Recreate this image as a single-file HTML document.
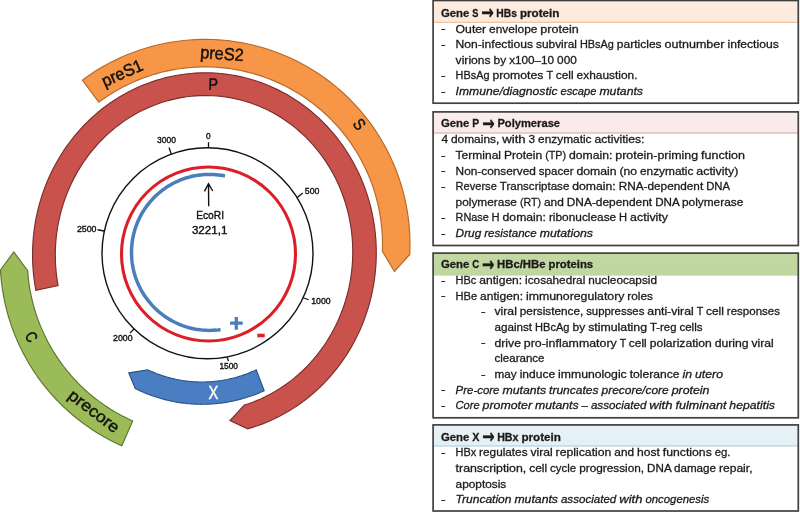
<!DOCTYPE html>
<html><head><meta charset="utf-8"><title>HBV genome</title>
<style>html,body{margin:0;padding:0;background:#fff}svg{display:block}text{font-family:"Liberation Sans",sans-serif}</style>
</head><body>
<svg width="800" height="512" viewBox="0 0 800 512">
<rect width="800" height="512" fill="#fff"/>
<path d="M82.34,80.14 L87.03,76.74 L91.82,73.48 L96.69,70.35 L101.66,67.35 L106.7,64.5 L111.82,61.8 L117.02,59.24 L122.29,56.83 L127.62,54.56 L133.02,52.45 L138.47,50.5 L143.98,48.69 L149.53,47.05 L155.13,45.56 L160.77,44.23 L166.44,43.06 L172.15,42.05 L177.88,41.2 L183.63,40.52 L189.4,39.99 L195.19,39.63 L200.98,39.44 L206.77,39.41 L212.56,39.54 L218.35,39.84 L224.13,40.29 L229.89,40.92 L235.63,41.7 L241.34,42.65 L247.03,43.75 L252.68,45.02 L258.3,46.45 L263.87,48.03 L269.4,49.78 L274.87,51.67 L280.29,53.73 L285.65,55.93 L290.94,58.28 L296.17,60.79 L301.32,63.44 L306.39,66.23 L311.39,69.17 L316.3,72.24 L321.12,75.46 L325.85,78.81 L330.48,82.29 L335.01,85.9 L339.44,89.63 L343.75,93.5 L347.96,97.48 L352.06,101.58 L356.04,105.79 L359.89,110.11 L363.63,114.54 L367.23,119.08 L370.71,123.71 L374.05,128.44 L377.26,133.27 L380.33,138.18 L383.27,143.18 L386.06,148.25 L388.7,153.41 L391.2,158.64 L393.55,163.93 L395.75,169.29 L397.79,174.71 L399.68,180.19 L401.42,185.72 L403,191.29 L404.42,196.91 L405.69,202.56 L406.79,208.25 L407.73,213.97 L408.51,219.71 L409.12,225.47 L409.58,231.24 L409.87,237.03 L409.99,242.82 L409.96,248.62 L409.76,254.41 L394.4,271.5 L382.37,251.25 L382.49,246.26 L382.47,241.27 L382.31,236.28 L382.02,231.29 L381.58,226.32 L381,221.36 L380.28,216.42 L379.42,211.5 L378.43,206.6 L377.3,201.74 L376.03,196.91 L374.62,192.12 L373.09,187.36 L371.42,182.66 L369.61,178 L367.68,173.4 L365.62,168.85 L363.43,164.36 L361.11,159.93 L358.68,155.58 L356.12,151.29 L353.44,147.07 L350.64,142.94 L347.73,138.88 L344.7,134.91 L341.57,131.02 L338.33,127.22 L334.98,123.52 L331.52,119.91 L327.97,116.4 L324.32,112.99 L320.58,109.69 L316.74,106.49 L312.82,103.4 L308.81,100.42 L304.72,97.56 L300.55,94.81 L296.3,92.18 L291.98,89.67 L287.6,87.29 L283.14,85.03 L278.63,82.89 L274.06,80.88 L269.43,79.01 L264.75,77.26 L260.03,75.64 L255.26,74.16 L250.45,72.82 L245.6,71.61 L240.73,70.53 L235.82,69.6 L230.89,68.8 L225.94,68.14 L220.97,67.62 L215.99,67.24 L211.01,67 L206.01,66.9 L201.02,66.94 L196.03,67.13 L191.05,67.45 L186.07,67.91 L181.12,68.51 L176.18,69.26 L171.26,70.14 L166.37,71.15 L161.51,72.31 L156.69,73.6 L151.9,75.03 L147.16,76.59 L142.46,78.28 L137.81,80.11 L133.22,82.06 L128.68,84.15 L124.2,86.36 L119.79,88.69 L115.44,91.15 L111.17,93.73 L106.96,96.43 L102.84,99.25 L98.8,102.18Z" fill="#F79646" stroke="#B46A2C" stroke-width="1.15" stroke-linejoin="miter"/>
<path d="M35.88,290.4 L34.97,285.23 L34.2,280.03 L33.57,274.81 L33.09,269.57 L32.76,264.31 L32.57,259.05 L32.53,253.78 L32.63,248.52 L32.88,243.25 L33.27,238 L33.81,232.76 L34.49,227.54 L35.31,222.34 L36.28,217.16 L37.4,212.02 L38.65,206.91 L40.04,201.85 L41.57,196.82 L43.24,191.85 L45.05,186.93 L46.99,182.06 L49.07,177.26 L51.27,172.52 L53.61,167.85 L56.07,163.25 L58.66,158.73 L61.37,154.28 L64.21,149.93 L67.16,145.66 L70.23,141.48 L73.41,137.4 L76.71,133.42 L80.11,129.54 L83.61,125.76 L87.22,122.09 L90.93,118.54 L94.73,115.09 L98.63,111.77 L102.62,108.57 L106.69,105.49 L110.85,102.53 L115.08,99.7 L119.39,97.01 L123.77,94.44 L128.22,92.02 L132.74,89.72 L137.32,87.57 L141.95,85.56 L146.63,83.69 L151.37,81.96 L156.15,80.39 L160.97,78.95 L165.82,77.67 L170.71,76.53 L175.63,75.55 L180.57,74.71 L185.54,74.03 L190.52,73.5 L195.51,73.12 L200.5,72.9 L205.51,72.82 L210.51,72.91 L215.5,73.14 L220.49,73.53 L225.46,74.07 L230.41,74.76 L235.35,75.61 L240.25,76.6 L245.13,77.75 L249.97,79.04 L254.77,80.48 L259.53,82.07 L264.25,83.81 L268.91,85.69 L273.52,87.71 L278.07,89.87 L282.55,92.17 L286.97,94.61 L291.33,97.18 L295.6,99.89 L299.8,102.72 L303.92,105.68 L307.96,108.77 L311.91,111.99 L315.76,115.32 L319.53,118.77 L323.19,122.33 L326.76,126 L330.22,129.79 L333.57,133.68 L336.82,137.67 L339.95,141.75 L342.97,145.94 L345.87,150.21 L348.65,154.57 L351.31,159.02 L353.84,163.55 L356.25,168.15 L358.53,172.83 L360.68,177.57 L362.69,182.38 L364.58,187.25 L366.32,192.17 L367.93,197.15 L369.41,202.18 L370.74,207.25 L371.93,212.36 L372.98,217.5 L373.88,222.68 L374.65,227.88 L375.27,233.1 L375.74,238.34 L376.07,243.6 L376.25,248.86 L376.29,254.13 L376.18,259.4 L375.93,264.66 L375.53,269.91 L374.99,275.15 L374.3,280.37 L373.47,285.57 L372.5,290.74 L371.38,295.88 L370.12,300.99 L368.73,306.06 L367.19,311.08 L365.51,316.05 L363.7,320.97 L361.76,325.83 L359.68,330.64 L357.46,335.37 L355.12,340.04 L352.66,344.64 L350.06,349.16 L347.34,353.59 L344.51,357.95 L341.55,362.21 L338.48,366.39 L335.29,370.47 L331.99,374.45 L328.59,378.32 L325.08,382.1 L321.47,385.76 L317.75,389.31 L313.95,392.75 L310.05,396.07 L306.06,399.27 L301.98,402.34 L297.82,405.29 L293.58,408.12 L289.27,410.81 L284.89,413.37 L280.43,415.79 L275.92,418.08 L271.34,420.22 L266.7,422.23 L262.02,424.1 L257.28,425.82 L252.5,427.39 L247.68,428.82 L230,420.6 L244.41,405.05 L248.54,403.7 L252.63,402.23 L256.68,400.63 L260.68,398.91 L264.64,397.06 L268.55,395.1 L272.4,393.01 L276.19,390.81 L279.93,388.5 L283.6,386.07 L287.2,383.53 L290.74,380.88 L294.2,378.13 L297.59,375.27 L300.89,372.3 L304.12,369.24 L307.26,366.08 L310.32,362.83 L313.29,359.49 L316.16,356.05 L318.94,352.53 L321.63,348.93 L324.22,345.25 L326.7,341.49 L329.09,337.66 L331.36,333.75 L333.54,329.78 L335.6,325.75 L337.55,321.65 L339.39,317.5 L341.12,313.29 L342.73,309.03 L344.23,304.73 L345.61,300.38 L346.87,296 L348.01,291.58 L349.03,287.13 L349.93,282.64 L350.7,278.14 L351.36,273.61 L351.88,269.07 L352.29,264.51 L352.57,259.95 L352.73,255.38 L352.76,250.8 L352.67,246.23 L352.45,241.67 L352.11,237.12 L351.64,232.58 L351.06,228.05 L350.34,223.55 L349.51,219.07 L348.55,214.63 L347.47,210.21 L346.27,205.83 L344.96,201.49 L343.52,197.2 L341.97,192.95 L340.3,188.75 L338.52,184.61 L336.62,180.52 L334.62,176.5 L332.5,172.54 L330.28,168.65 L327.95,164.83 L325.51,161.08 L322.98,157.41 L320.34,153.82 L317.61,150.32 L314.79,146.9 L311.86,143.57 L308.85,140.33 L305.76,137.19 L302.57,134.14 L299.31,131.2 L295.96,128.36 L292.54,125.62 L289.04,122.99 L285.47,120.47 L281.83,118.06 L278.13,115.76 L274.37,113.58 L270.54,111.52 L266.67,109.57 L262.73,107.75 L258.75,106.05 L254.73,104.47 L250.66,103.02 L246.55,101.69 L242.41,100.49 L238.23,99.42 L234.03,98.48 L229.8,97.66 L225.55,96.98 L221.28,96.43 L216.99,96.01 L212.7,95.73 L208.4,95.57 L204.09,95.55 L199.79,95.66 L195.48,95.9 L191.19,96.27 L186.9,96.78 L182.64,97.42 L178.38,98.18 L174.15,99.08 L169.95,100.11 L165.77,101.27 L161.63,102.55 L157.52,103.96 L153.45,105.5 L149.42,107.16 L145.44,108.94 L141.51,110.84 L137.62,112.86 L133.8,115 L130.03,117.26 L126.33,119.63 L122.69,122.12 L119.12,124.71 L115.62,127.41 L112.2,130.22 L108.85,133.13 L105.58,136.14 L102.39,139.25 L99.29,142.45 L96.28,145.75 L93.36,149.14 L90.53,152.62 L87.79,156.18 L85.15,159.82 L82.62,163.54 L80.18,167.33 L77.85,171.2 L75.62,175.14 L73.5,179.14 L71.49,183.21 L69.6,187.33 L67.81,191.51 L66.14,195.74 L64.58,200.02 L63.14,204.35 L61.82,208.71 L60.62,213.11 L59.54,217.55 L58.58,222.02 L57.74,226.51 L57.02,231.03 L56.43,235.56 L55.96,240.11 L55.62,244.67 L55.4,249.24 L55.3,253.82 L55.33,258.39 L55.48,262.95 L55.76,267.51 L56.16,272.06 L56.69,276.59 L57.34,281.11 L58.11,285.6Z" fill="#CA524D" stroke="#7A2E2C" stroke-width="1.15" stroke-linejoin="miter"/>
<path d="M13.75,251.9 L27.65,270.61 L27.83,273.01 L28.04,275.41 L28.28,277.8 L28.56,280.2 L28.86,282.59 L29.2,284.97 L29.57,287.35 L29.98,289.73 L30.41,292.1 L30.88,294.46 L31.38,296.81 L31.91,299.16 L32.48,301.5 L33.07,303.84 L33.7,306.16 L34.36,308.48 L35.05,310.79 L35.77,313.09 L36.52,315.38 L37.31,317.65 L38.12,319.92 L38.97,322.18 L39.84,324.42 L40.75,326.65 L41.68,328.87 L42.65,331.08 L43.65,333.27 L44.67,335.45 L45.73,337.61 L46.81,339.76 L47.93,341.9 L49.07,344.02 L50.24,346.13 L51.44,348.21 L52.67,350.29 L53.93,352.34 L55.21,354.38 L56.52,356.4 L57.86,358.4 L59.23,360.39 L60.62,362.35 L62.04,364.3 L63.48,366.22 L64.95,368.13 L66.45,370.02 L67.98,371.88 L69.52,373.73 L71.1,375.55 L72.69,377.36 L74.32,379.14 L75.96,380.9 L77.63,382.63 L79.32,384.35 L81.04,386.04 L82.78,387.7 L84.54,389.35 L86.32,390.96 L88.13,392.56 L89.96,394.13 L91.8,395.67 L93.67,397.19 L95.56,398.69 L97.47,400.16 L99.4,401.6 L101.35,403.01 L103.32,404.4 L105.3,405.77 L107.31,407.1 L109.33,408.41 L111.37,409.69 L113.43,410.94 L115.5,412.17 L117.59,413.36 L119.7,414.53 L121.82,415.67 L123.96,416.78 L126.11,417.86 L128.28,418.91 L130.46,419.94 L132.65,420.93 L121.84,445.78 L119.28,444.62 L116.74,443.43 L114.21,442.21 L111.7,440.95 L109.2,439.65 L106.73,438.33 L104.27,436.96 L101.83,435.57 L99.42,434.14 L97.02,432.68 L94.64,431.18 L92.28,429.65 L89.94,428.09 L87.63,426.5 L85.34,424.88 L83.07,423.22 L80.82,421.54 L78.59,419.82 L76.39,418.07 L74.22,416.3 L72.07,414.49 L69.94,412.65 L67.84,410.79 L65.77,408.9 L63.72,406.97 L61.69,405.02 L59.7,403.05 L57.73,401.04 L55.79,399.01 L53.88,396.95 L52,394.87 L50.14,392.76 L48.32,390.62 L46.52,388.46 L44.75,386.28 L43.02,384.07 L41.31,381.83 L39.64,379.58 L37.99,377.3 L36.38,375 L34.8,372.68 L33.25,370.33 L31.74,367.97 L30.25,365.58 L28.8,363.18 L27.39,360.75 L26,358.31 L24.65,355.84 L23.34,353.36 L22.05,350.86 L20.81,348.34 L19.59,345.81 L18.42,343.26 L17.27,340.69 L16.17,338.11 L15.09,335.51 L14.06,332.9 L13.06,330.28 L12.09,327.64 L11.17,324.99 L10.28,322.32 L9.42,319.65 L8.6,316.96 L7.82,314.26 L7.08,311.55 L6.37,308.83 L5.71,306.1 L5.07,303.36 L4.48,300.62 L3.93,297.86 L3.41,295.1 L2.93,292.34 L2.49,289.56 L2.08,286.78 L1.72,284 L1.39,281.21 L1.1,278.41 L0.85,275.61 L0.64,272.81 L0.47,270.01Z" fill="#9BBB59" stroke="#5E7530" stroke-width="1.15" stroke-linejoin="miter"/>
<path d="M128.75,372.9 L147.77,369.84 L149.04,370.43 L150.31,371.01 L151.59,371.57 L152.88,372.12 L154.18,372.65 L155.48,373.17 L156.79,373.68 L158.1,374.17 L159.41,374.65 L160.74,375.11 L162.06,375.56 L163.4,375.99 L164.73,376.41 L166.07,376.81 L167.42,377.2 L168.77,377.58 L170.12,377.93 L171.48,378.28 L172.84,378.61 L174.21,378.92 L175.58,379.22 L176.95,379.5 L178.32,379.77 L179.7,380.03 L181.08,380.27 L182.46,380.49 L183.85,380.7 L185.24,380.89 L186.63,381.07 L188.02,381.23 L189.41,381.37 L190.81,381.51 L192.2,381.62 L193.6,381.72 L195,381.81 L196.4,381.88 L197.8,381.93 L199.2,381.97 L200.6,381.99 L202,382 L203.4,381.99 L204.8,381.97 L206.2,381.93 L207.6,381.88 L209,381.81 L210.4,381.72 L211.79,381.62 L213.19,381.51 L214.59,381.37 L215.98,381.23 L217.37,381.07 L218.76,380.89 L220.15,380.7 L221.53,380.49 L222.92,380.27 L224.3,380.03 L225.67,379.77 L227.05,379.51 L228.42,379.22 L229.79,378.92 L231.15,378.61 L232.52,378.28 L233.87,377.94 L235.23,377.58 L236.58,377.2 L237.92,376.81 L239.26,376.41 L240.6,375.99 L241.93,375.56 L243.26,375.11 L244.58,374.65 L245.9,374.17 L247.21,373.68 L248.52,373.17 L249.82,372.65 L251.11,372.12 L252.4,371.57 L253.69,371.01 L254.96,370.43 L256.23,369.84 L264.2,390.73 L262.68,391.41 L261.15,392.08 L259.62,392.73 L258.08,393.37 L256.53,393.99 L254.97,394.59 L253.41,395.17 L251.85,395.73 L250.27,396.28 L248.69,396.81 L247.1,397.32 L245.51,397.82 L243.92,398.3 L242.31,398.75 L240.71,399.2 L239.09,399.62 L237.48,400.02 L235.86,400.41 L234.23,400.78 L232.6,401.13 L230.97,401.46 L229.33,401.78 L227.69,402.07 L226.05,402.35 L224.4,402.61 L222.75,402.85 L221.1,403.07 L219.45,403.28 L217.79,403.46 L216.13,403.63 L214.47,403.78 L212.81,403.91 L211.15,404.02 L209.48,404.11 L207.82,404.19 L206.15,404.24 L204.49,404.28 L202.82,404.3 L201.15,404.3 L199.49,404.28 L197.82,404.24 L196.16,404.19 L194.49,404.11 L192.83,404.02 L191.16,403.91 L189.5,403.78 L187.84,403.63 L186.18,403.46 L184.53,403.27 L182.87,403.07 L181.22,402.85 L179.57,402.61 L177.93,402.35 L176.28,402.07 L174.64,401.77 L173.01,401.46 L171.37,401.13 L169.74,400.77 L168.12,400.4 L166.5,400.02 L164.88,399.61 L163.27,399.19 L161.66,398.75 L160.06,398.29 L158.46,397.81 L156.87,397.32 L155.29,396.8 L153.71,396.27 L152.13,395.73 L150.56,395.16 L149,394.58 L147.45,393.98 L145.9,393.36 L144.36,392.72 L142.83,392.07 L141.3,391.4 L139.78,390.72 L138.27,390.01 L136.77,389.29 L135.27,388.56Z" fill="#4A7EC2" stroke="#2F5588" stroke-width="1.15" stroke-linejoin="miter"/>
<circle cx="207.5" cy="253.25" r="105.5" fill="none" stroke="#111" stroke-width="1.4"/>
<circle cx="208.5" cy="254" r="87" fill="none" stroke="#DC1F26" stroke-width="3.1"/>
<path d="M225.01,175.96 L222.78,175.54 L220.55,175.19 L218.3,174.9 L216.05,174.68 L213.79,174.52 L211.53,174.43 L209.26,174.4 L207,174.44 L204.74,174.55 L202.48,174.72 L200.23,174.95 L197.98,175.26 L195.75,175.62 L193.52,176.05 L191.31,176.55 L189.12,177.11 L186.94,177.73 L184.79,178.42 L182.65,179.17 L180.53,179.98 L178.44,180.85 L176.38,181.78 L174.34,182.77 L172.34,183.82 L170.36,184.93 L168.42,186.09 L166.51,187.31 L164.64,188.59 L162.81,189.92 L161.01,191.3 L159.26,192.73 L157.55,194.22 L155.88,195.75 L154.26,197.33 L152.69,198.96 L151.16,200.63 L149.68,202.34 L148.25,204.1 L146.88,205.9 L145.55,207.74 L144.28,209.61 L143.07,211.52 L141.91,213.47 L140.81,215.45 L139.77,217.46 L138.78,219.5 L137.85,221.56 L136.99,223.65 L136.19,225.77 L135.44,227.91 L134.76,230.07 L134.15,232.25 L133.59,234.45 L133.11,236.66 L132.68,238.88 L132.32,241.12 L132.03,243.36 L131.8,245.61 L131.63,247.87 L131.53,250.13 L131.5,252.4 L131.53,254.66 L131.63,256.93 L131.8,259.18 L132.03,261.44 L132.32,263.68 L132.68,265.92 L133.1,268.14 L133.59,270.35 L134.15,272.55 L134.76,274.73 L135.44,276.89 L136.19,279.03 L136.99,281.14 L137.85,283.24 L138.78,285.3 L139.76,287.34 L140.81,289.35 L141.91,291.33 L143.07,293.28 L144.28,295.19 L145.55,297.06 L146.88,298.9 L148.25,300.7 L149.68,302.46 L151.16,304.17 L152.69,305.84 L154.26,307.47 L155.88,309.05 L157.55,310.58 L159.26,312.07 L161.01,313.5 L162.81,314.88 L164.64,316.21 L166.51,317.48 L168.42,318.71 L170.36,319.87 L172.34,320.98 L174.34,322.03 L176.38,323.02 L178.44,323.95 L180.53,324.82 L182.65,325.63 L184.78,326.38 L186.94,327.07 L189.12,327.69 L191.31,328.25 L193.52,328.75 L195.74,329.18 L197.98,329.54 L200.22,329.85 L202.48,330.08 L204.73,330.25 L207,330.36 L209.26,330.4 L211.52,330.37 L213.79,330.28 L216.05,330.12 L218.3,329.9 L220.54,329.61" fill="none" stroke="#4A7EBB" stroke-width="3.5" stroke-linecap="butt"/>
<line x1="208.5" y1="142.25" x2="208.5" y2="147.75" stroke="#111" stroke-width="1.3"/>
<line x1="169" y1="147.5" x2="171.25" y2="154" stroke="#111" stroke-width="1.3"/>
<line x1="297.25" y1="197.5" x2="302.75" y2="193.1" stroke="#111" stroke-width="1.3"/>
<line x1="303" y1="297.75" x2="308.75" y2="299.75" stroke="#111" stroke-width="1.3"/>
<line x1="227.25" y1="357.5" x2="228.5" y2="361" stroke="#111" stroke-width="1.3"/>
<line x1="134" y1="329" x2="130" y2="333.1" stroke="#111" stroke-width="1.3"/>
<line x1="97.5" y1="229.75" x2="104" y2="231" stroke="#111" stroke-width="1.3"/>
<g fill="#111" stroke="#111" stroke-width="0.38" style="filter:grayscale(1)">
<text x="206" y="139.4" font-size="8.8" textLength="4.6" lengthAdjust="spacingAndGlyphs">0</text>
<text x="157" y="143" font-size="8.8" textLength="19" lengthAdjust="spacingAndGlyphs">3000</text>
<text x="304.75" y="193.75" font-size="8.8" textLength="14.65" lengthAdjust="spacingAndGlyphs">500</text>
<text x="311.25" y="303.75" font-size="8.8" textLength="19.35" lengthAdjust="spacingAndGlyphs">1000</text>
<text x="219.4" y="369.4" font-size="8.8" textLength="18.6" lengthAdjust="spacingAndGlyphs">1500</text>
<text x="113.1" y="340.6" font-size="8.8" textLength="19.4" lengthAdjust="spacingAndGlyphs">2000</text>
<text x="76.9" y="231.9" font-size="8.8" textLength="19.6" lengthAdjust="spacingAndGlyphs">2500</text>
<path d="M208.7,206.3 L208.5,184 M204.4,191.3 L208.5,183.6 L212.7,191" fill="none" stroke="#111" stroke-width="1.4"/>
<text x="196.2" y="218.5" font-size="11.4" textLength="27.8" lengthAdjust="spacingAndGlyphs" fill="#111">EcoRI</text>
<text x="191.9" y="234.4" font-size="11.4" textLength="35.6" lengthAdjust="spacingAndGlyphs" fill="#111">3221,1</text>
</g>
<path d="M230,323.1H242.7M236.3,316.9V329.7" stroke="#4A7EBB" stroke-width="3.3" fill="none"/>
<path d="M257.3,335.5H264.7" stroke="#D9262C" stroke-width="3.6" fill="none"/>
<g stroke-width="0.45" style="filter:grayscale(1)">
<text transform="translate(124.5,78.3) rotate(-24)" x="-21.75" y="0" font-size="17" textLength="43.5" lengthAdjust="spacingAndGlyphs" fill="#111" stroke="#111">preS1</text>
<text transform="translate(221.6,59.6) rotate(4)" x="-21.75" y="0" font-size="17.5" textLength="43.5" lengthAdjust="spacingAndGlyphs" fill="#111" stroke="#111">preS2</text>
<text transform="translate(354.8,127.7) rotate(52)" x="-4.75" y="0" font-size="16.5" textLength="9.5" lengthAdjust="spacingAndGlyphs" fill="#111" stroke="#111">S</text>
<text transform="translate(213,90) rotate(2)" x="-4.75" y="0" font-size="16.5" textLength="9.5" lengthAdjust="spacingAndGlyphs" fill="#111" stroke="#111">P</text>
<text transform="translate(26.5,339.5) rotate(60)" x="-4.75" y="0" font-size="16" textLength="9.5" lengthAdjust="spacingAndGlyphs" fill="#111" stroke="#111">C</text>
<text transform="translate(90.7,415.6) rotate(37.5)" x="-29.75" y="0" font-size="16.5" textLength="59.5" lengthAdjust="spacingAndGlyphs" fill="#111" stroke="#111">precore</text>
<text transform="translate(213.5,399.2) rotate(0)" x="-4.9" y="0" font-size="17.5" textLength="9.8" lengthAdjust="spacingAndGlyphs" fill="#fff" stroke="#fff">X</text>
</g>
<linearGradient id="g0" x1="0" y1="0" x2="0" y2="1"><stop offset="0" stop-color="#FDEDE1"/><stop offset="1" stop-color="#FCE9DA"/></linearGradient>
<rect x="433.1" y="0.5" width="365.2" height="102.7" fill="#fff"/>
<rect x="433.1" y="0.5" width="365.2" height="21.8" fill="url(#g0)"/>
<line x1="433.1" x2="798.3" y1="22.3" y2="22.3" stroke="#E9B88F" stroke-width="1"/>
<rect x="433.1" y="0.5" width="365.2" height="102.7" fill="none" stroke="#404040" stroke-width="1.7"/>
<linearGradient id="g1" x1="0" y1="0" x2="0" y2="1"><stop offset="0" stop-color="#FBECED"/><stop offset="1" stop-color="#FAE9EA"/></linearGradient>
<rect x="433.1" y="111.9" width="365.2" height="133.6" fill="#fff"/>
<rect x="433.1" y="111.9" width="365.2" height="21.1" fill="url(#g1)"/>
<line x1="433.1" x2="798.3" y1="133" y2="133" stroke="#D9A3A8" stroke-width="1"/>
<rect x="433.1" y="111.9" width="365.2" height="133.6" fill="none" stroke="#404040" stroke-width="1.7"/>
<linearGradient id="g2" x1="0" y1="0" x2="0" y2="1"><stop offset="0" stop-color="#C3D8A3"/><stop offset="1" stop-color="#C0D69F"/></linearGradient>
<rect x="433.1" y="253.1" width="365.2" height="164.7" fill="#fff"/>
<rect x="433.1" y="253.1" width="365.2" height="22" fill="url(#g2)"/>
<line x1="433.1" x2="798.3" y1="275.1" y2="275.1" stroke="#C0D69F" stroke-width="1"/>
<rect x="433.1" y="253.1" width="365.2" height="164.7" fill="none" stroke="#404040" stroke-width="1.7"/>
<linearGradient id="g3" x1="0" y1="0" x2="0" y2="1"><stop offset="0" stop-color="#E8F2F7"/><stop offset="1" stop-color="#E4F0F5"/></linearGradient>
<rect x="433.1" y="424.9" width="365.2" height="86.1" fill="#fff"/>
<rect x="433.1" y="424.9" width="365.2" height="21.1" fill="url(#g3)"/>
<line x1="433.1" x2="798.3" y1="446" y2="446" stroke="#A5CCDD" stroke-width="1"/>
<rect x="433.1" y="424.9" width="365.2" height="86.1" fill="none" stroke="#404040" stroke-width="1.7"/>
<g font-size="11.7" fill="#1a1a1a" stroke="#1a1a1a" stroke-width="0.3" style="filter:grayscale(1)">
<text y="16.5" font-weight="bold"><tspan x="440.9" textLength="28.35" lengthAdjust="spacingAndGlyphs">Gene</tspan> <tspan x="472.19" textLength="6.14" lengthAdjust="spacingAndGlyphs">S</tspan></text>
<text x="481.3" y="18.95" font-size="19.5" font-weight="bold" stroke-width="0.35" textLength="12.57" lengthAdjust="spacingAndGlyphs" style="font-family:'DejaVu Sans',sans-serif">→</text>
<text y="16.5" font-weight="bold"><tspan x="496.3" textLength="20.67" lengthAdjust="spacingAndGlyphs">HBs</tspan> <tspan x="519.91" textLength="39.49" lengthAdjust="spacingAndGlyphs">protein</tspan></text>
<text x="441.1" y="32.25" textLength="4.6" lengthAdjust="spacingAndGlyphs" >-</text>
<text y="32.6" ><tspan x="455.6" textLength="30.59" lengthAdjust="spacingAndGlyphs">Outer</tspan> <tspan x="489.12" textLength="48.33" lengthAdjust="spacingAndGlyphs">envelope</tspan> <tspan x="540.38" textLength="38.42" lengthAdjust="spacingAndGlyphs">protein</tspan></text>
<text x="441.1" y="47.88" textLength="4.6" lengthAdjust="spacingAndGlyphs" >-</text>
<text y="48.23" ><tspan x="455.6" textLength="77.43" lengthAdjust="spacingAndGlyphs">Non-infectious</tspan> <tspan x="535.96" textLength="41.02" lengthAdjust="spacingAndGlyphs">subviral</tspan> <tspan x="579.92" textLength="33.9" lengthAdjust="spacingAndGlyphs">HBsAg</tspan> <tspan x="616.76" textLength="44.87" lengthAdjust="spacingAndGlyphs">particles</tspan> <tspan x="664.57" textLength="59.92" lengthAdjust="spacingAndGlyphs">outnumber</tspan> <tspan x="727.44" textLength="51.36" lengthAdjust="spacingAndGlyphs">infectious</tspan></text>
<text y="63.86" ><tspan x="455.6" textLength="35.07" lengthAdjust="spacingAndGlyphs">virions</tspan> <tspan x="493.61" textLength="12.63" lengthAdjust="spacingAndGlyphs">by</tspan> <tspan x="509.17" textLength="44.97" lengthAdjust="spacingAndGlyphs">x100–10</tspan> <tspan x="557.07" textLength="19.73" lengthAdjust="spacingAndGlyphs">000</tspan></text>
<text x="441.1" y="79.14" textLength="4.6" lengthAdjust="spacingAndGlyphs" >-</text>
<text y="79.49" ><tspan x="455.6" textLength="33.9" lengthAdjust="spacingAndGlyphs">HBsAg</tspan> <tspan x="492.44" textLength="51.02" lengthAdjust="spacingAndGlyphs">promotes</tspan> <tspan x="546.4" textLength="6.34" lengthAdjust="spacingAndGlyphs">T</tspan> <tspan x="555.68" textLength="17.94" lengthAdjust="spacingAndGlyphs">cell</tspan> <tspan x="576.56" textLength="60.94" lengthAdjust="spacingAndGlyphs">exhaustion.</tspan></text>
<text x="441.1" y="94.77" textLength="4.6" lengthAdjust="spacingAndGlyphs" >-</text>
<text y="95.12" font-style="italic"><tspan x="455.6" textLength="101.95" lengthAdjust="spacingAndGlyphs">Immune/diagnostic</tspan> <tspan x="560.47" textLength="36" lengthAdjust="spacingAndGlyphs">escape</tspan> <tspan x="599.4" textLength="43.6" lengthAdjust="spacingAndGlyphs">mutants</tspan></text>
<text y="127.4" font-weight="bold"><tspan x="440.9" textLength="28.35" lengthAdjust="spacingAndGlyphs">Gene</tspan> <tspan x="472.19" textLength="6.92" lengthAdjust="spacingAndGlyphs">P</tspan></text>
<text x="482.21" y="129.85" font-size="19.5" font-weight="bold" stroke-width="0.35" textLength="12.45" lengthAdjust="spacingAndGlyphs" style="font-family:'DejaVu Sans',sans-serif">→</text>
<text y="127.4" font-weight="bold"><tspan x="497.4" textLength="62.65" lengthAdjust="spacingAndGlyphs">Polymerase</tspan></text>
<text y="143.3" ><tspan x="441.4" textLength="6.58" lengthAdjust="spacingAndGlyphs">4</tspan> <tspan x="450.92" textLength="48.39" lengthAdjust="spacingAndGlyphs">domains,</tspan> <tspan x="502.25" textLength="23.44" lengthAdjust="spacingAndGlyphs">with</tspan> <tspan x="528.62" textLength="6.58" lengthAdjust="spacingAndGlyphs">3</tspan> <tspan x="538.14" textLength="53.38" lengthAdjust="spacingAndGlyphs">enzymatic</tspan> <tspan x="594.46" textLength="50.04" lengthAdjust="spacingAndGlyphs">activities:</tspan></text>
<text x="441.1" y="158.57" textLength="4.6" lengthAdjust="spacingAndGlyphs" >-</text>
<text y="158.92" ><tspan x="455.6" textLength="45.43" lengthAdjust="spacingAndGlyphs">Terminal</tspan> <tspan x="503.96" textLength="38.26" lengthAdjust="spacingAndGlyphs">Protein</tspan> <tspan x="545.15" textLength="20.86" lengthAdjust="spacingAndGlyphs">(TP)</tspan> <tspan x="568.94" textLength="43.44" lengthAdjust="spacingAndGlyphs">domain:</tspan> <tspan x="615.31" textLength="82.86" lengthAdjust="spacingAndGlyphs">protein-priming</tspan> <tspan x="701.1" textLength="43.9" lengthAdjust="spacingAndGlyphs">function</tspan></text>
<text x="441.1" y="174.19" textLength="4.6" lengthAdjust="spacingAndGlyphs" >-</text>
<text y="174.54" ><tspan x="455.6" textLength="80.33" lengthAdjust="spacingAndGlyphs">Non-conserved</tspan> <tspan x="538.86" textLength="34.62" lengthAdjust="spacingAndGlyphs">spacer</tspan> <tspan x="576.42" textLength="40.08" lengthAdjust="spacingAndGlyphs">domain</tspan> <tspan x="619.44" textLength="17.62" lengthAdjust="spacingAndGlyphs">(no</tspan> <tspan x="639.99" textLength="53.4" lengthAdjust="spacingAndGlyphs">enzymatic</tspan> <tspan x="696.33" textLength="41.97" lengthAdjust="spacingAndGlyphs">activity)</tspan></text>
<text x="441.1" y="189.81" textLength="4.6" lengthAdjust="spacingAndGlyphs" >-</text>
<text y="190.16" ><tspan x="455.6" textLength="41.23" lengthAdjust="spacingAndGlyphs">Reverse</tspan> <tspan x="499.77" textLength="69.57" lengthAdjust="spacingAndGlyphs">Transcriptase</tspan> <tspan x="572.27" textLength="43.51" lengthAdjust="spacingAndGlyphs">domain:</tspan> <tspan x="618.71" textLength="84.49" lengthAdjust="spacingAndGlyphs">RNA-dependent</tspan> <tspan x="706.13" textLength="23.87" lengthAdjust="spacingAndGlyphs">DNA</tspan></text>
<text y="205.78" ><tspan x="455.6" textLength="61.36" lengthAdjust="spacingAndGlyphs">polymerase</tspan> <tspan x="519.89" textLength="21.12" lengthAdjust="spacingAndGlyphs">(RT)</tspan> <tspan x="543.95" textLength="19.86" lengthAdjust="spacingAndGlyphs">and</tspan> <tspan x="566.74" textLength="85.46" lengthAdjust="spacingAndGlyphs">DNA-dependent</tspan> <tspan x="655.13" textLength="23.88" lengthAdjust="spacingAndGlyphs">DNA</tspan> <tspan x="681.94" textLength="61.36" lengthAdjust="spacingAndGlyphs">polymerase</tspan></text>
<text x="441.1" y="221.05" textLength="4.6" lengthAdjust="spacingAndGlyphs" >-</text>
<text y="221.4" ><tspan x="455.6" textLength="33.08" lengthAdjust="spacingAndGlyphs">RNase</tspan> <tspan x="491.61" textLength="8.06" lengthAdjust="spacingAndGlyphs">H</tspan> <tspan x="502.59" textLength="43.39" lengthAdjust="spacingAndGlyphs">domain:</tspan> <tspan x="548.91" textLength="67.29" lengthAdjust="spacingAndGlyphs">ribonuclease</tspan> <tspan x="619.12" textLength="8.06" lengthAdjust="spacingAndGlyphs">H</tspan> <tspan x="630.11" textLength="37.89" lengthAdjust="spacingAndGlyphs">activity</tspan></text>
<text x="441.1" y="236.67" textLength="4.6" lengthAdjust="spacingAndGlyphs" >-</text>
<text y="237.02" font-style="italic"><tspan x="455.6" textLength="25.73" lengthAdjust="spacingAndGlyphs">Drug</tspan> <tspan x="484.26" textLength="52.51" lengthAdjust="spacingAndGlyphs">resistance</tspan> <tspan x="539.7" textLength="53.3" lengthAdjust="spacingAndGlyphs">mutations</tspan></text>
<text y="268.4" font-weight="bold"><tspan x="440.9" textLength="28.35" lengthAdjust="spacingAndGlyphs">Gene</tspan> <tspan x="472.19" textLength="6.88" lengthAdjust="spacingAndGlyphs">C</tspan></text>
<text x="482.11" y="270.85" font-size="19.5" font-weight="bold" stroke-width="0.35" textLength="12.45" lengthAdjust="spacingAndGlyphs" style="font-family:'DejaVu Sans',sans-serif">→</text>
<text y="268.4" font-weight="bold"><tspan x="497" textLength="48.55" lengthAdjust="spacingAndGlyphs">HBc/HBe</tspan> <tspan x="548.49" textLength="44.68" lengthAdjust="spacingAndGlyphs">proteins</tspan></text>
<text x="441.1" y="283.75" textLength="4.6" lengthAdjust="spacingAndGlyphs" >-</text>
<text y="284.1" ><tspan x="455.6" textLength="20.67" lengthAdjust="spacingAndGlyphs">HBc</tspan> <tspan x="479.21" textLength="42.98" lengthAdjust="spacingAndGlyphs">antigen:</tspan> <tspan x="525.13" textLength="60.16" lengthAdjust="spacingAndGlyphs">icosahedral</tspan> <tspan x="588.23" textLength="68.77" lengthAdjust="spacingAndGlyphs">nucleocapsid</tspan></text>
<text x="441.1" y="299.41" textLength="4.6" lengthAdjust="spacingAndGlyphs" >-</text>
<text y="299.76" ><tspan x="455.6" textLength="21.59" lengthAdjust="spacingAndGlyphs">HBe</tspan> <tspan x="480.12" textLength="42.87" lengthAdjust="spacingAndGlyphs">antigen:</tspan> <tspan x="525.93" textLength="98.48" lengthAdjust="spacingAndGlyphs">immunoregulatory</tspan> <tspan x="627.34" textLength="25.66" lengthAdjust="spacingAndGlyphs">roles</tspan></text>
<text x="481" y="315.07" textLength="4.6" lengthAdjust="spacingAndGlyphs" >-</text>
<text y="315.42" ><tspan x="494.5" textLength="22.36" lengthAdjust="spacingAndGlyphs">viral</tspan> <tspan x="519.8" textLength="63.42" lengthAdjust="spacingAndGlyphs">persistence,</tspan> <tspan x="586.16" textLength="58.2" lengthAdjust="spacingAndGlyphs">suppresses</tspan> <tspan x="647.3" textLength="46.44" lengthAdjust="spacingAndGlyphs">anti-viral</tspan> <tspan x="696.68" textLength="6.34" lengthAdjust="spacingAndGlyphs">T</tspan> <tspan x="705.97" textLength="17.96" lengthAdjust="spacingAndGlyphs">cell</tspan> <tspan x="726.87" textLength="53.13" lengthAdjust="spacingAndGlyphs">responses</tspan></text>
<text y="331.08" ><tspan x="494.5" textLength="37.61" lengthAdjust="spacingAndGlyphs">against</tspan> <tspan x="535.07" textLength="34.47" lengthAdjust="spacingAndGlyphs">HBcAg</tspan> <tspan x="572.49" textLength="12.71" lengthAdjust="spacingAndGlyphs">by</tspan> <tspan x="588.15" textLength="58.95" lengthAdjust="spacingAndGlyphs">stimulating</tspan> <tspan x="650.05" textLength="26.37" lengthAdjust="spacingAndGlyphs">T-reg</tspan> <tspan x="679.38" textLength="23.12" lengthAdjust="spacingAndGlyphs">cells</tspan></text>
<text x="481" y="346.39" textLength="4.6" lengthAdjust="spacingAndGlyphs" >-</text>
<text y="346.74" ><tspan x="494.5" textLength="26.44" lengthAdjust="spacingAndGlyphs">drive</tspan> <tspan x="523.87" textLength="92.85" lengthAdjust="spacingAndGlyphs">pro-inflammatory</tspan> <tspan x="619.65" textLength="6.31" lengthAdjust="spacingAndGlyphs">T</tspan> <tspan x="628.88" textLength="17.85" lengthAdjust="spacingAndGlyphs">cell</tspan> <tspan x="649.66" textLength="62.09" lengthAdjust="spacingAndGlyphs">polarization</tspan> <tspan x="714.67" textLength="33.97" lengthAdjust="spacingAndGlyphs">during</tspan> <tspan x="751.57" textLength="22.23" lengthAdjust="spacingAndGlyphs">viral</tspan></text>
<text y="362.4" ><tspan x="494.5" textLength="50" lengthAdjust="spacingAndGlyphs">clearance</tspan></text>
<text x="481" y="377.71" textLength="4.6" lengthAdjust="spacingAndGlyphs" >-</text>
<text y="378.06" ><tspan x="494.5" textLength="22.25" lengthAdjust="spacingAndGlyphs">may</tspan> <tspan x="519.69" textLength="35.43" lengthAdjust="spacingAndGlyphs">induce</tspan> <tspan x="558.06" textLength="68.69" lengthAdjust="spacingAndGlyphs">immunologic</tspan> <tspan x="629.69" textLength="49.81" lengthAdjust="spacingAndGlyphs">tolerance</tspan></text>
<text y="378.06" font-style="italic"><tspan x="682.5" textLength="9.59" lengthAdjust="spacingAndGlyphs">in</tspan> <tspan x="695" textLength="28" lengthAdjust="spacingAndGlyphs">utero</tspan></text>
<text x="441.1" y="393.37" textLength="4.6" lengthAdjust="spacingAndGlyphs" >-</text>
<text y="393.72" font-style="italic"><tspan x="455.6" textLength="43.89" lengthAdjust="spacingAndGlyphs">Pre-core</tspan> <tspan x="502.42" textLength="43.69" lengthAdjust="spacingAndGlyphs">mutants</tspan> <tspan x="549.04" textLength="49.54" lengthAdjust="spacingAndGlyphs">truncates</tspan> <tspan x="601.51" textLength="67.25" lengthAdjust="spacingAndGlyphs">precore/core</tspan> <tspan x="671.69" textLength="37.81" lengthAdjust="spacingAndGlyphs">protein</tspan></text>
<text x="441.1" y="409.03" textLength="4.6" lengthAdjust="spacingAndGlyphs" >-</text>
<text y="409.38" font-style="italic"><tspan x="455.6" textLength="24.04" lengthAdjust="spacingAndGlyphs">Core</tspan> <tspan x="482.57" textLength="49.46" lengthAdjust="spacingAndGlyphs">promoter</tspan> <tspan x="534.96" textLength="43.64" lengthAdjust="spacingAndGlyphs">mutants</tspan> <tspan x="581.53" textLength="6.45" lengthAdjust="spacingAndGlyphs">–</tspan> <tspan x="590.91" textLength="55.45" lengthAdjust="spacingAndGlyphs">associated</tspan> <tspan x="649.29" textLength="23.23" lengthAdjust="spacingAndGlyphs">with</tspan> <tspan x="675.44" textLength="50.99" lengthAdjust="spacingAndGlyphs">fulminant</tspan> <tspan x="729.37" textLength="45.63" lengthAdjust="spacingAndGlyphs">hepatitis</tspan></text>
<text y="440.7" font-weight="bold"><tspan x="440.9" textLength="28.35" lengthAdjust="spacingAndGlyphs">Gene</tspan> <tspan x="472.19" textLength="7.16" lengthAdjust="spacingAndGlyphs">X</tspan></text>
<text x="482.21" y="443.15" font-size="19.5" font-weight="bold" stroke-width="0.35" textLength="12.45" lengthAdjust="spacingAndGlyphs" style="font-family:'DejaVu Sans',sans-serif">→</text>
<text y="440.7" font-weight="bold"><tspan x="497.2" textLength="21.3" lengthAdjust="spacingAndGlyphs">HBx</tspan> <tspan x="521.44" textLength="39.49" lengthAdjust="spacingAndGlyphs">protein</tspan></text>
<text x="441.1" y="456.05" textLength="4.6" lengthAdjust="spacingAndGlyphs" >-</text>
<text y="456.4" ><tspan x="455.6" textLength="20.61" lengthAdjust="spacingAndGlyphs">HBx</tspan> <tspan x="479.14" textLength="48.41" lengthAdjust="spacingAndGlyphs">regulates</tspan> <tspan x="530.48" textLength="22.23" lengthAdjust="spacingAndGlyphs">viral</tspan> <tspan x="555.63" textLength="55.79" lengthAdjust="spacingAndGlyphs">replication</tspan> <tspan x="614.35" textLength="19.8" lengthAdjust="spacingAndGlyphs">and</tspan> <tspan x="637.07" textLength="22.87" lengthAdjust="spacingAndGlyphs">host</tspan> <tspan x="662.87" textLength="48.91" lengthAdjust="spacingAndGlyphs">functions</tspan> <tspan x="714.7" textLength="15.8" lengthAdjust="spacingAndGlyphs">eg.</tspan></text>
<text y="472.02" ><tspan x="455.6" textLength="70.68" lengthAdjust="spacingAndGlyphs">transcription,</tspan> <tspan x="529.21" textLength="17.92" lengthAdjust="spacingAndGlyphs">cell</tspan> <tspan x="550.07" textLength="26.15" lengthAdjust="spacingAndGlyphs">cycle</tspan> <tspan x="579.16" textLength="65" lengthAdjust="spacingAndGlyphs">progression,</tspan> <tspan x="647.1" textLength="23.9" lengthAdjust="spacingAndGlyphs">DNA</tspan> <tspan x="673.93" textLength="42.12" lengthAdjust="spacingAndGlyphs">damage</tspan> <tspan x="718.99" textLength="33.51" lengthAdjust="spacingAndGlyphs">repair,</tspan></text>
<text y="487.64" ><tspan x="455.6" textLength="50.7" lengthAdjust="spacingAndGlyphs">apoptosis</tspan></text>
<text x="441.1" y="502.91" textLength="4.6" lengthAdjust="spacingAndGlyphs" >-</text>
<text y="503.26" font-style="italic"><tspan x="455.6" textLength="55.88" lengthAdjust="spacingAndGlyphs">Truncation</tspan> <tspan x="514.41" textLength="43.59" lengthAdjust="spacingAndGlyphs">mutants</tspan> <tspan x="560.93" textLength="55.4" lengthAdjust="spacingAndGlyphs">associated</tspan> <tspan x="619.25" textLength="23.21" lengthAdjust="spacingAndGlyphs">with</tspan> <tspan x="645.39" textLength="63.91" lengthAdjust="spacingAndGlyphs">oncogenesis</tspan></text>
</g>
</svg>
</body></html>
